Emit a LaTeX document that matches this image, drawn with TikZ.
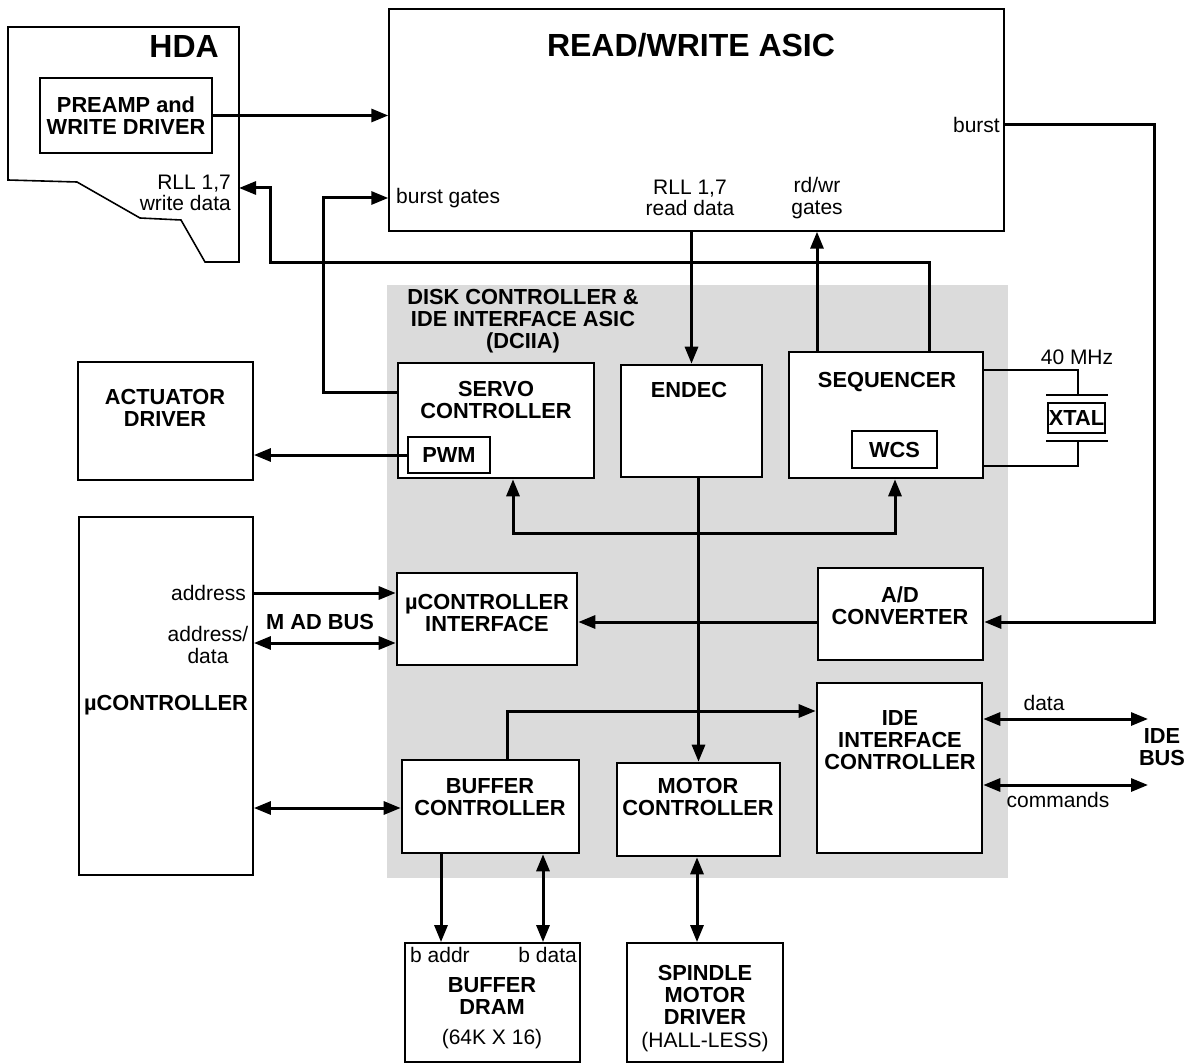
\documentclass[tikz,border=0pt]{standalone}
\usepackage{fontspec}
\setmainfont{Liberation Sans}
\usetikzlibrary{arrows.meta,fit}
\begin{document}
\begin{tikzpicture}[x=1pt,y=-1pt,
  every node/.style={inner sep=0pt, align=center},
  txt/.style={font=\fontsize{21}{21.5}\selectfont},
  btxt/.style={font=\fontsize{21.8}{21.8}\selectfont\bfseries},
  big/.style={font=\fontsize{32}{34}\selectfont\bfseries},
  box/.style={draw, line width=2.6pt, fill=white, inner sep=0pt},
  obox/.style={draw, line width=1.5pt, fill=white, inner sep=0pt},
  conn/.style={line width=3pt},
  thin/.style={line width=1.8pt},
  arr/.style={conn, -{Triangle[length=17pt,width=13pt]}},
  arrb/.style={conn, {Triangle[length=17pt,width=13pt]}-{Triangle[length=17pt,width=13pt]}}]
\useasboundingbox (0,0) rectangle (1191,1064);

% shaded DCIIA area
\fill[gray!28] (387,285) rectangle (1008,878);

% HDA outline
\draw[line width=1.6pt, line join=miter] (8,27) -- (239,27) -- (239,262) -- (205,262) -- (181,220) -- (140,218) -- (77,182) -- (8,180) -- cycle;
\node[big, anchor=east] (hda) at (219,46) {HDA};
\node[obox, line width=1.8pt, fit={(40,78) (212,153)}] (preamp) {};
\node[btxt] (preampl) at (preamp.center) {PREAMP and\\WRITE DRIVER};
\node[txt, anchor=east, align=right] (wdata) at (231,193) {RLL 1,7\\write data};
\coordinate (hdaR) at (239,188);

% READ/WRITE ASIC
\node[obox, line width=1.4pt, fit={(389,9) (1004,231)}] (asic) {};
\node[big] (asicl) at (691,45) {READ/WRITE ASIC};
\node[txt, anchor=west] (bgates) at (396,198) {burst gates};
\node[txt] (rdata) at (690,198) {RLL 1,7\\read data};
\node[txt] (rwg) at (817,198) {rd/wr\\gates};
\node[txt, anchor=east] (burst) at (1000,125) {burst};

% DCIIA title
\node[btxt] (dciia) at (523,321) {DISK CONTROLLER \&\\IDE INTERFACE ASIC\\(DCIIA)};

% servo
\node[box, fit={(398,363) (594,478)}] (servo) {};
\node[btxt] (servol) at (496,400) {SERVO\\CONTROLLER};
\node[box, fit={(408,437) (490,473)}] (pwm) {};
\node[btxt] at (pwm.center) {PWM};

% endec
\node[box, fit={(621,365) (762,477)}] (endec) {};
\node[btxt] (endecl) at (689,390) {ENDEC};

% sequencer
\node[box, fit={(789,352) (983,478)}] (seq) {};
\node[btxt] (seql) at (887,382) {SEQUENCER};
\node[box, fit={(852,431) (937,468)}] (wcs) {};
\node[btxt] at (wcs.center) {WCS};

% crystal
\node[txt] (mhz) at (1077,357) {40 MHz};
\node[draw, line width=1.8pt, fit={(1048,403) (1105,433)}] (xtal) {};
\node[btxt] at (xtal.center) {XTAL};
\coordinate (xt) at (1078,395);
\coordinate (xb) at (1078,441);
\draw[line width=2.2pt] (1046,395) -- (1108,395);
\draw[line width=2.2pt] (1046,441) -- (1108,441);
\draw[thin] (seq.east |- 0,370) -| (xt);
\draw[thin] (seq.east |- 0,466) -| (xb);

% actuator driver
\node[obox, line width=1.8pt, fit={(78,362) (253,480)}] (act) {};
\node[btxt] (actl) at (165,408) {ACTUATOR\\DRIVER};

% micro controller
\node[obox, line width=1.8pt, fit={(79,517) (253,875)}] (uc) {};
\node[btxt] (ucl) at (166,705) {\textmu CONTROLLER};
\node[txt, anchor=east] (addr) at (246,593) {address};
\node[txt] (addrd) at (208,645) {address/\\data};
\node[btxt] (madbus) at (320,622) {M AD BUS};

% micro controller interface
\node[box, fit={(397,573) (577,665)}] (uci) {};
\node[btxt] (ucil) at (487,613) {\textmu CONTROLLER\\INTERFACE};

% A/D
\node[box, fit={(818,568) (983,660)}] (adc) {};
\node[btxt] (adcl) at (900,606) {A/D\\CONVERTER};

% IDE
\node[box, fit={(817,683) (982,853)}] (ide) {};
\node[btxt] (idel) at (900,740) {IDE\\INTERFACE\\CONTROLLER};
\node[txt] (datal) at (1044,703) {data};
\node[txt] (cmdl) at (1058,800) {commands};
\node[btxt] (idebus) at (1162,747) {IDE\\BUS};
\coordinate (ideD) at (1148,719);
\coordinate (ideC) at (1148,785);

% buffer / motor controllers
\node[box, fit={(402,760) (579,853)}] (bufc) {};
\node[btxt] (bufcl) at (490,797) {BUFFER\\CONTROLLER};
\node[box, fit={(617,763) (780,856)}] (motc) {};
\node[btxt] (motcl) at (698,797) {MOTOR\\CONTROLLER};

% DRAM & spindle
\node[obox, line width=1.8pt, fit={(405,943) (580,1062)}] (dram) {};
\node[txt, anchor=west] (baddr) at (410,955) {b addr};
\node[txt, anchor=east] (bdata) at (577,955) {b data};
\node[btxt] (draml) at (492,996) {BUFFER\\DRAM};
\node[txt] (draml2) at (492,1039) {(64K X 16)};
\node[obox, line width=1.8pt, fit={(627,943) (783,1062)}] (spin) {};
\node[btxt] (spinl) at (705,995) {SPINDLE\\MOTOR\\DRIVER};
\node[txt] (spinl2) at (705,1042) {(HALL-LESS)};

% ---- connectors ----
\draw[arr] (preamp.east) -- (preamp.east -| asic.west);
\coordinate (bgx) at (323,0);
\draw[arr] (servo.west |- 0,392) -- (bgx |- 0,392) -- (bgx |- 0,198) -- (asic.west |- 0,198);
\draw[arr] (asic.south -| endec.north) -- (endec.north);
\coordinate (rwx) at (817,0);
\draw[arr] (seq.north -| rwx) -- (asic.south -| rwx);
\coordinate (wdx) at (929,0);
\draw[arr] (seq.north -| wdx) -- (wdx |- 0,263) -- (270,263) -- (270,188) -- (hdaR);
\draw[arr] (asic.east |- burst) -- (1154,125) -- (1154,622) -- (adc.east |- 0,622);
\draw[arr] (pwm.west) -- (pwm.west -| act.east);
\coordinate (sbx) at (513,0);
\coordinate (wbx) at (895,0);
\draw[arrb] (servo.south -| sbx) -- (sbx |- 0,533) -- (wbx |- 0,533) -- (seq.south -| wbx);
\draw[arr] (endec.south -| motc.north) -- (motc.north);
\draw[arr] (adc.west |- 0,622) -- (uci.east |- 0,622);
\draw[arr] (uc.east |- 0,593) -- (uci.west |- 0,593);
\draw[arrb] (uc.east |- 0,643) -- (uci.west |- 0,643);
\draw[arrb] (uc.east |- 0,808) -- (bufc.west |- 0,808);
\coordinate (bix) at (507,0);
\draw[arr] (bufc.north -| bix) -- (bix |- 0,711) -- (ide.west |- 0,711);
\draw[arrb] (ide.east |- ideD) -- (ideD);
\draw[arrb] (ide.east |- ideC) -- (ideC);
\coordinate (bax) at (441,0);
\coordinate (bdx) at (543,0);
\draw[arr] (bufc.south -| bax) -- (dram.north -| bax);
\draw[arrb] (bufc.south -| bdx) -- (dram.north -| bdx);
\coordinate (spx) at (697,0);
\draw[arrb] (motc.south -| spx) -- (spin.north -| spx);
\end{tikzpicture}
\end{document}
